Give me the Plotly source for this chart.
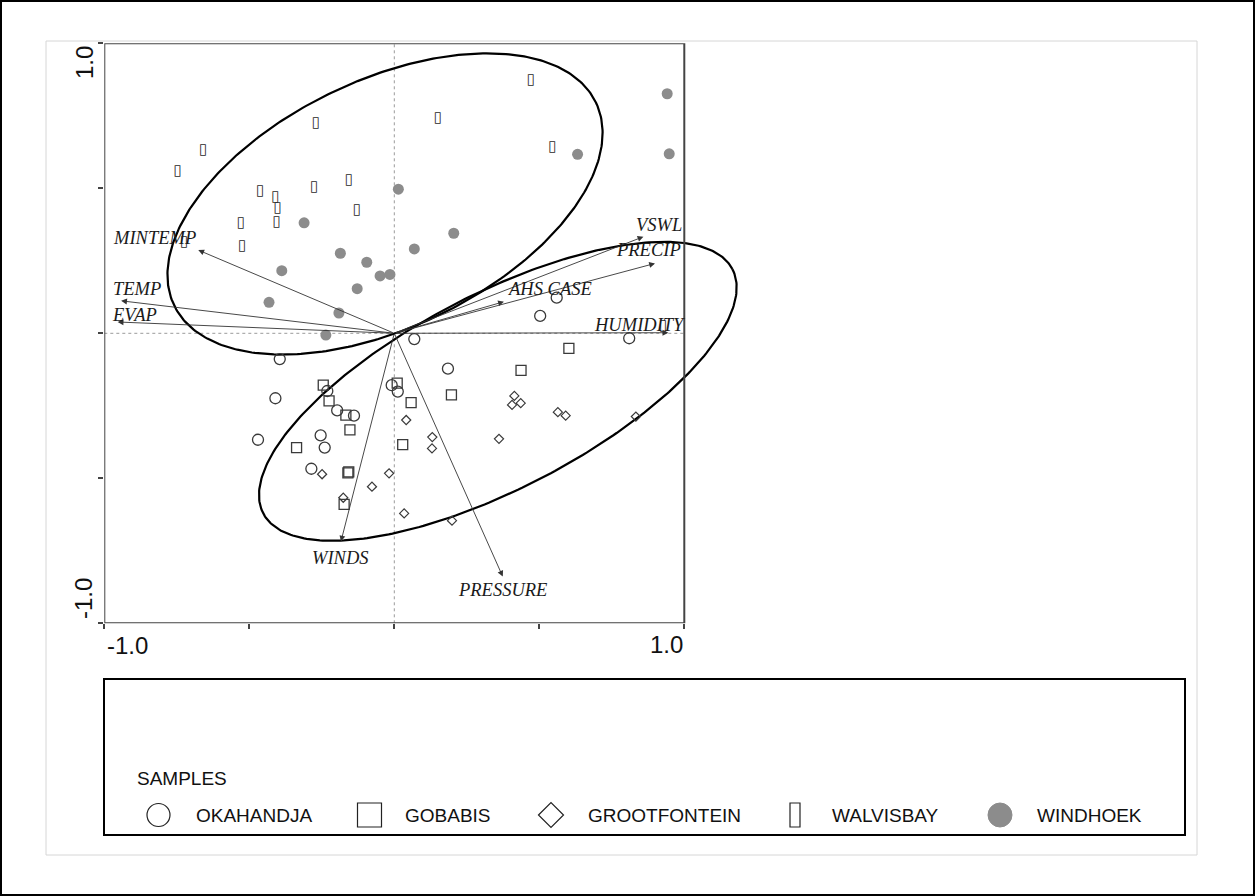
import numpy as np
import plotly.graph_objects as go

W, H = 1255, 896

# ---- sample scores on ordination axes 1 and 2 ----
okahandja_x = [0.560, 0.503, 0.069, 0.810, -0.395, 0.185, -0.410, -0.231, -0.009, 0.012,
               -0.197, -0.139, -0.470, -0.254, -0.240, -0.286]
okahandja_y = [0.123, 0.060, -0.020, -0.017, -0.089, -0.122, -0.224, -0.199, -0.179, -0.201,
               -0.266, -0.284, -0.367, -0.352, -0.394, -0.467]

gobabis_x = [-0.245, -0.225, -0.167, -0.153, -0.337, -0.160, -0.157, -0.173, 0.010, 0.058,
             0.029, 0.197, 0.602, 0.437]
gobabis_y = [-0.179, -0.233, -0.282, -0.333, -0.394, -0.481, -0.478, -0.590, -0.172, -0.239,
             -0.384, -0.212, -0.052, -0.128]

grootfontein_x = [0.041, 0.131, 0.130, -0.249, -0.018, -0.077, -0.176, 0.034, 0.199, 0.414,
                  0.406, 0.436, 0.564, 0.591, 0.833, 0.361]
grootfontein_y = [-0.299, -0.358, -0.397, -0.486, -0.483, -0.529, -0.567, -0.621, -0.646, -0.216,
                  -0.247, -0.241, -0.272, -0.284, -0.287, -0.364]

walvisbay_x = [-0.270, 0.150, -0.659, -0.747, -0.463, -0.410, -0.276, -0.157, -0.402, -0.129,
               -0.529, -0.406, -0.525, -0.725, 0.471, 0.545, 0.927]
walvisbay_y = [0.724, 0.741, 0.630, 0.560, 0.490, 0.469, 0.504, 0.528, 0.431, 0.426,
               0.381, 0.383, 0.301, 0.315, 0.873, 0.640, 0.023]

windhoek_x = [0.014, -0.311, -0.186, -0.095, -0.388, -0.049, -0.015, -0.128, -0.432, -0.191,
              -0.236, 0.069, 0.205, 0.941, 0.948, 0.632]
windhoek_y = [0.497, 0.381, 0.276, 0.245, 0.216, 0.198, 0.203, 0.154, 0.107, 0.070,
              -0.006, 0.291, 0.345, 0.826, 0.619, 0.617]

# ---- environmental variable vectors ----
var_names = ["MINTEMP", "TEMP", "EVAP", "VSWL", "PRECIP", "AHS CASE", "HUMIDITY", "WINDS", "PRESSURE"]
var_x = [-0.676, -0.942, -0.954, 0.859, 0.899, 0.378, 0.945, -0.184, 0.374]
var_y = [0.287, 0.112, 0.039, 0.333, 0.241, 0.109, 0.002, -0.718, -0.839]

# ---- group ellipses: centre x, centre y, semi-major, semi-minor, angle (deg) ----
ellipse_upper = (-0.032, 0.446, 0.807, 0.426, 25.7)
ellipse_lower = (0.357, -0.200, 0.912, 0.335, 27.5)

tick_vals = [-1.0, -0.5, 0.0, 0.5, 1.0]
legend_title = "SAMPLES"
group_names = ["OKAHANDJA", "GOBABIS", "GROOTFONTEIN", "WALVISBAY", "WINDHOEK"]

# label placement relative to arrow tips: (xshift px, yshift px)
label_shift = [(-44, 12), (16, 12), (17, 7), (16, 12), (-7, 13), (46, 13), (-29, 8), (0, -16), (0, -13)]

MARK = "#3a3a3a"
GREY = "#8c8c8c"


def px(x):
    return x / W


def py(y):
    return 1 - y / H


def ellipse_xy(params, n=361):
    cx, cy, a, b, ang = params
    t = np.linspace(0, 2 * np.pi, n)
    th = np.radians(ang)
    ex = cx + a * np.cos(t) * np.cos(th) - b * np.sin(t) * np.sin(th)
    ey = cy + a * np.cos(t) * np.sin(th) + b * np.sin(t) * np.cos(th)
    return ex, ey


fig = go.Figure()

for params in (ellipse_upper, ellipse_lower):
    ex, ey = ellipse_xy(params)
    fig.add_trace(go.Scatter(x=ex, y=ey, mode="lines", line=dict(color="black", width=2.2),
                             hoverinfo="skip", showlegend=False))

fig.add_trace(go.Scatter(x=windhoek_x, y=windhoek_y, mode="markers", name=group_names[4],
                         marker=dict(symbol="circle", size=11, color=GREY, line=dict(width=0))))
fig.add_trace(go.Scatter(x=okahandja_x, y=okahandja_y, mode="markers", name=group_names[0],
                         marker=dict(symbol="circle-open", size=11, color=MARK, line=dict(width=1.3))))
fig.add_trace(go.Scatter(x=gobabis_x, y=gobabis_y, mode="markers", name=group_names[1],
                         marker=dict(symbol="square-open", size=10, color=MARK, line=dict(width=1.3))))
fig.add_trace(go.Scatter(x=grootfontein_x, y=grootfontein_y, mode="markers", name=group_names[2],
                         marker=dict(symbol="diamond-open", size=7, color=MARK, line=dict(width=1.2))))
# narrow upright rectangles drawn with the white-vertical-rectangle glyph
fig.add_trace(go.Scatter(x=walvisbay_x, y=walvisbay_y, mode="text", name=group_names[3],
                         text=["\u25af"] * len(walvisbay_x), textposition="middle center",
                         textfont=dict(family="DejaVu Sans", size=15, color="#2a2a2a")))

annotations = []
shapes = []

# dotted axes through the origin
shapes.append(dict(type="line", xref="x", yref="y", x0=0, x1=0, y0=-1, y1=1,
                   line=dict(color="#9a9a9a", width=1, dash="dot"), layer="below"))
shapes.append(dict(type="line", xref="x", yref="y", x0=-1, x1=1, y0=0, y1=0,
                   line=dict(color="#9a9a9a", width=1, dash="dot"), layer="below"))

# plot frame
shapes.append(dict(type="rect", xref="x", yref="y", x0=-1, x1=1, y0=-1, y1=1,
                   line=dict(color="#444444", width=2), layer="above"))

# variable arrows and labels
label_font = dict(family="Liberation Serif", size=18.5, color="#1a1a1a", style="italic")
for name, vx, vy, (dx, dy) in zip(var_names, var_x, var_y, label_shift):
    annotations.append(dict(x=vx, y=vy, ax=0, ay=0, xref="x", yref="y", axref="x", ayref="y",
                            text="", showarrow=True, arrowhead=2, arrowsize=1.3, arrowwidth=0.9,
                            arrowcolor="#333333", standoff=0, startstandoff=0))
    annotations.append(dict(x=vx, y=vy, xref="x", yref="y", text=name, showarrow=False,
                            xshift=dx, yshift=dy, xanchor="center", yanchor="middle",
                            font=label_font))

# tick value labels
tick_font = dict(family="Liberation Sans", size=24, color="#111111")
annotations += [
    dict(x=px(127), y=py(645), xref="paper", yref="paper", text="-1.0", showarrow=False,
         xanchor="center", yanchor="middle", font=tick_font),
    dict(x=px(666), y=py(644), xref="paper", yref="paper", text="1.0", showarrow=False,
         xanchor="center", yanchor="middle", font=tick_font),
    dict(x=px(84), y=py(63), xref="paper", yref="paper", text="1.0", showarrow=False,
         xanchor="center", yanchor="middle", textangle=-90, font=tick_font),
    dict(x=px(83), y=py(598), xref="paper", yref="paper", text="-1.0", showarrow=False,
         xanchor="center", yanchor="middle", textangle=-90, font=tick_font),
]

# page frames
shapes.append(dict(type="rect", xref="paper", yref="paper", x0=px(1), x1=px(1254), y0=py(895), y1=py(1),
                   line=dict(color="black", width=2)))
shapes.append(dict(type="rect", xref="paper", yref="paper", x0=px(46), x1=px(1197), y0=py(855), y1=py(41),
                   line=dict(color="#d6d6d6", width=1), layer="below"))

# legend panel
shapes.append(dict(type="rect", xref="paper", yref="paper", x0=px(104), x1=px(1185), y0=py(835), y1=py(679),
                   line=dict(color="black", width=2)))
legend_font = dict(family="Liberation Sans", size=19, color="#111111")
annotations.append(dict(x=px(135), y=py(778), xref="paper", yref="paper", text=legend_title,
                        showarrow=False, xanchor="left", yanchor="middle", font=legend_font))

ly = 815
sym_line = dict(color="#222222", width=1.2)
# circle
shapes.append(dict(type="circle", xref="paper", yref="paper", x0=px(147), x1=px(170), y0=py(826.5), y1=py(803.5),
                   line=sym_line))
# square
shapes.append(dict(type="rect", xref="paper", yref="paper", x0=px(357.5), x1=px(381.5), y0=py(827), y1=py(803),
                   line=sym_line))
# diamond
dcx, dh = 551, 12.5
shapes.append(dict(type="path", xref="paper", yref="paper",
                   path=f"M {px(dcx - dh)} {py(ly)} L {px(dcx)} {py(ly - dh)} L {px(dcx + dh)} {py(ly)} "
                        f"L {px(dcx)} {py(ly + dh)} Z", line=sym_line))
# narrow rectangle
shapes.append(dict(type="rect", xref="paper", yref="paper", x0=px(790), x1=px(800), y0=py(827), y1=py(803),
                   line=sym_line))
# filled circle
shapes.append(dict(type="circle", xref="paper", yref="paper", x0=px(988), x1=px(1012), y0=py(827), y1=py(803),
                   fillcolor=GREY, line=dict(color=GREY, width=1)))

for name, lx in zip(group_names, [194, 403, 586, 830, 1035]):
    annotations.append(dict(x=px(lx), y=py(ly), xref="paper", yref="paper", text=name, showarrow=False,
                            xanchor="left", yanchor="middle", font=legend_font))

# axis ranges: x is extended past 1.0 so the lower ellipse can run outside the frame
x_lo, x_hi = -1.0, 1.25
left_px, unit_px = 104.3, 290.0
fig.update_layout(
    width=W, height=H,
    margin=dict(l=0, r=0, t=0, b=0),
    paper_bgcolor="white", plot_bgcolor="white",
    showlegend=False,
    xaxis=dict(range=[x_lo, x_hi], domain=[px(left_px), px(left_px + unit_px * (x_hi - x_lo))],
               showgrid=False, zeroline=False, showline=False, tickvals=tick_vals,
               ticks="outside", ticklen=5, tickwidth=1.5, tickcolor="#444444", showticklabels=False,
               fixedrange=True),
    yaxis=dict(range=[-1, 1], domain=[py(623.3), py(43.3)],
               showgrid=False, zeroline=False, showline=False, tickvals=tick_vals,
               ticks="outside", ticklen=5, tickwidth=1.5, tickcolor="#444444", showticklabels=False,
               fixedrange=True),
    shapes=shapes,
    annotations=annotations,
)

fig.write_html("out.html")
